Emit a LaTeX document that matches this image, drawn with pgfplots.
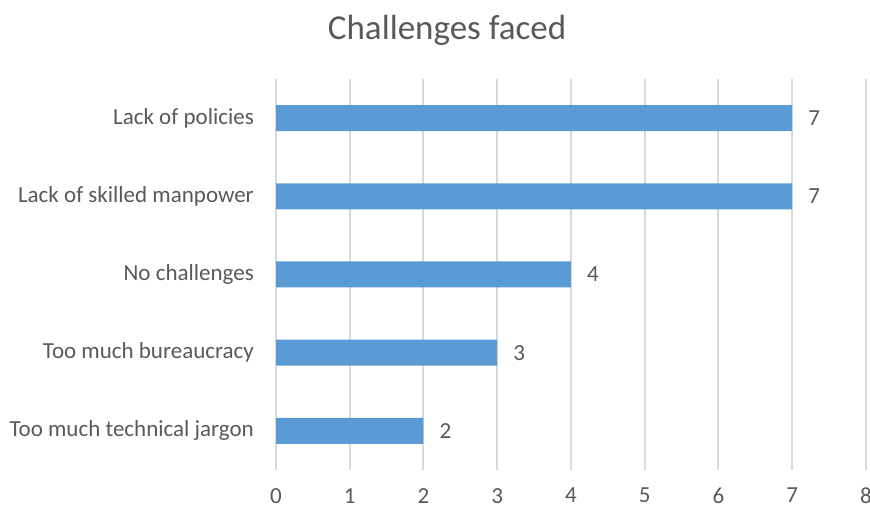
\documentclass[border=0pt]{standalone}
\usepackage{pgfplots}
\pgfplotsset{compat=1.18}
\usepackage{fontspec}
\setmainfont{Carlito}
\definecolor{barblue}{RGB}{91,155,213}
\definecolor{txtgray}{RGB}{89,89,89}
\definecolor{gridgray}{RGB}{217,217,217}

\begin{document}
\begin{tikzpicture}
\useasboundingbox (0,0) rectangle (870pt,508pt);
\begin{axis}[
  at={(276pt,38pt)}, anchor=south west,
  xbar,
  width=590pt, height=391pt, scale only axis,
  xmin=0, xmax=8, ymin=0.5, ymax=5.5,
  xtick={0,...,8},
  ytick={1,...,5},
  yticklabels={Too much technical jargon, Too much bureaucracy, No challenges, Lack of skilled manpower, Lack of policies},
  xmajorgrids,
  grid style={gridgray, line width=2pt},
  axis line style={draw=none},
  major tick length=0pt,
  tick label style={font=\fontsize{23}{27}\selectfont, text=txtgray, inner sep=0pt},
  xticklabel shift=18pt,
  yticklabel shift=22pt,
  /pgf/number format/assume math mode=true,
  bar width=26pt,
  nodes near coords,
  nodes near coords style={font=\fontsize{23}{27}\selectfont, text=txtgray, xshift=16pt, inner sep=0pt},
  title={Challenges faced},
  title style={at={(0.29,1.11)}, anchor=center, font=\fontsize{35}{40}\selectfont, text=txtgray},
]
\addplot[fill=barblue, draw=none] coordinates {
  (2,1)
  (3,2)
  (4,3)
  (7,4)
  (7,5)
};
\end{axis}
\end{tikzpicture}
\end{document}
